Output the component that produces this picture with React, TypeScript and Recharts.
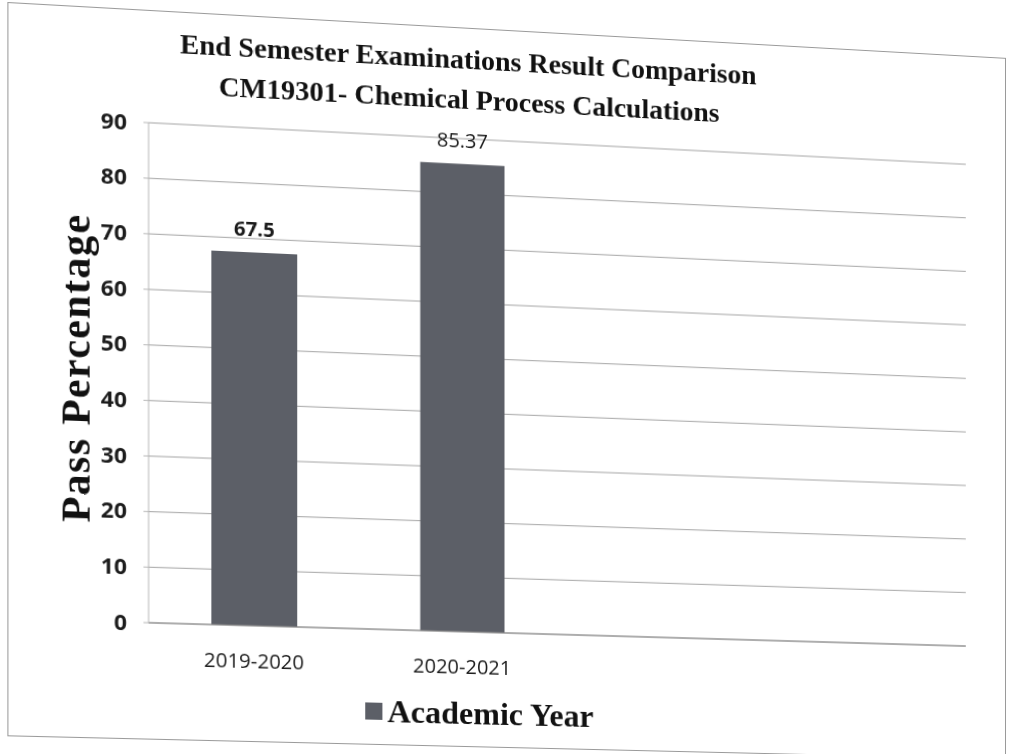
import React from "react";
import { Bar, BarChart, CartesianGrid, LabelList, XAxis, YAxis } from "recharts";

// academic years; the source sheet had two extra empty rows, so the axis has 4 slots
const years = ["2019-2020", "2020-2021", "", ""];
const passPercent: (number | null)[] = [67.5, 85.37, null, null];
const yTicks = [0, 10, 20, 30, 40, 50, 60, 70, 80, 90];

const titleLines = ["End Semester Examinations Result Comparison", "CM19301- Chemical Process Calculations"];
const seriesName = "Academic Year";
const yTitle = "Pass Percentage";

const BAR_COLOR = "#5c5f67";
const SERIF = "'Liberation Serif', 'Times New Roman', serif";
const SANS = "'Open Sans', 'Liberation Sans', sans-serif";

const data = years.map((year, i) => ({ year, pass: passPercent[i] }));

const renderValue = (props: any) => {
    const { x, y, width, value, index } = props;
    if (value == null) return null;
    return (
        <text
            x={Number(x) + Number(width) / 2}
            y={Number(y) - 16}
            textAnchor="middle"
            fontFamily={SANS}
            fontSize={20}
            fontWeight={index === 0 ? 700 : 400}
            fill="#1b1b1b"
        >
            {value}
        </text>
    );
};

export default function App() {
    return (
        <div
            style={{
                position: "absolute",
                left: 0,
                top: 0,
                width: 1016,
                height: 754,
                background: "#fff",
                transform: "perspective(1000px) rotateY(2.6deg) skewY(2.3deg)",
                transformOrigin: "508px 377px",
            }}
        >
            {/* chart frame */}
            <div
                style={{
                    position: "absolute",
                    left: 18,
                    top: 30,
                    width: 1000,
                    height: 718,
                    border: "1px solid #9a9a9a",
                    boxSizing: "border-box",
                }}
            />

            <div
                style={{
                    position: "absolute",
                    left: 0,
                    top: 42,
                    width: 944,
                    textAlign: "center",
                    fontFamily: SERIF,
                    fontWeight: 700,
                    fontSize: 28,
                    lineHeight: "40px",
                    color: "#111",
                }}
            >
                {titleLines.map((t) => (
                    <div key={t}>{t}</div>
                ))}
            </div>

            <div
                style={{
                    position: "absolute",
                    left: 83,
                    top: 385,
                    transform: "translate(-50%, -50%) rotate(-90deg)",
                    whiteSpace: "nowrap",
                    fontFamily: SERIF,
                    fontWeight: 700,
                    fontSize: 41,
                    letterSpacing: 1.5,
                    color: "#111",
                }}
            >
                {yTitle}
            </div>

            <BarChart
                width={1016}
                height={754}
                data={data}
                margin={{ top: 141, right: 40, left: 0, bottom: 61 }}
                style={{ position: "absolute", left: 0, top: 0 }}
            >
                <CartesianGrid vertical={false} stroke="#a4a4a4" />
                <XAxis
                    dataKey="year"
                    height={60}
                    axisLine={{ stroke: "#8a8a8a" }}
                    tickLine={false}
                    tickMargin={22}
                    tick={{ fontFamily: SANS, fontSize: 20, fill: "#1c1c1c" }}
                />
                <YAxis
                    width={154}
                    domain={[0, 90]}
                    ticks={yTicks}
                    axisLine={{ stroke: "#b8b8b8" }}
                    tickLine={{ stroke: "#b8b8b8" }}
                    tickSize={5}
                    tickMargin={16}
                    tick={{ fontFamily: SANS, fontSize: 22, fontWeight: 700, fill: "#1c1c1c" }}
                />
                <Bar dataKey="pass" name={seriesName} fill={BAR_COLOR} barSize={84} isAnimationActive={false}>
                    <LabelList dataKey="pass" content={renderValue} />
                </Bar>
            </BarChart>

            {/* legend */}
            <div
                style={{
                    position: "absolute",
                    left: 366,
                    top: 694,
                    height: 40,
                    display: "flex",
                    alignItems: "center",
                    fontFamily: SERIF,
                    fontWeight: 700,
                    fontSize: 32,
                    color: "#111",
                    whiteSpace: "nowrap",
                }}
            >
                <span style={{ display: "inline-block", width: 17, height: 17, background: BAR_COLOR, marginRight: 5 }} />
                {seriesName}
            </div>
        </div>
    );
}
